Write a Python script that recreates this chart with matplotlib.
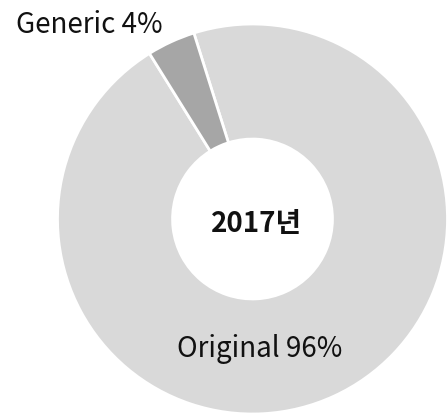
import matplotlib
matplotlib.use("Agg")
import matplotlib.pyplot as plt

# data
labels = ["Original", "Generic"]
shares = [96, 4]
colors = ["#d9d9d9", "#a6a6a6"]
center_title = "2017년"

plt.rcParams["font.family"] = ["Noto Sans CJK KR", "DejaVu Sans"]

W, H = 447, 417
fig = plt.figure(figsize=(W / 100, H / 100), dpi=100)
ax = fig.add_axes([0, 0, 1, 1])

cx, cy, r = 252.5, H - 219, 195
ax.pie(
    shares,
    colors=colors,
    startangle=107.5,
    counterclock=False,
    center=(cx, cy),
    radius=r,
    frame=True,
    wedgeprops=dict(width=r * 0.59, edgecolor="white", linewidth=2),
)
ax.set_xlim(0, W)
ax.set_ylim(0, H)
ax.set_aspect("equal")
ax.axis("off")

ax.text(89, H - 33, f"{labels[1]} {shares[1]}%", ha="center", va="baseline",
        fontsize=20, color="#111111")
ax.text(260, H - 357, f"{labels[0]} {shares[0]}%", ha="center", va="baseline",
        fontsize=20, color="#111111")
ax.text(256, H - 232, center_title, ha="center", va="baseline",
        fontsize=20, fontweight="bold", color="#111111")

fig.savefig("out.png", dpi=100)
